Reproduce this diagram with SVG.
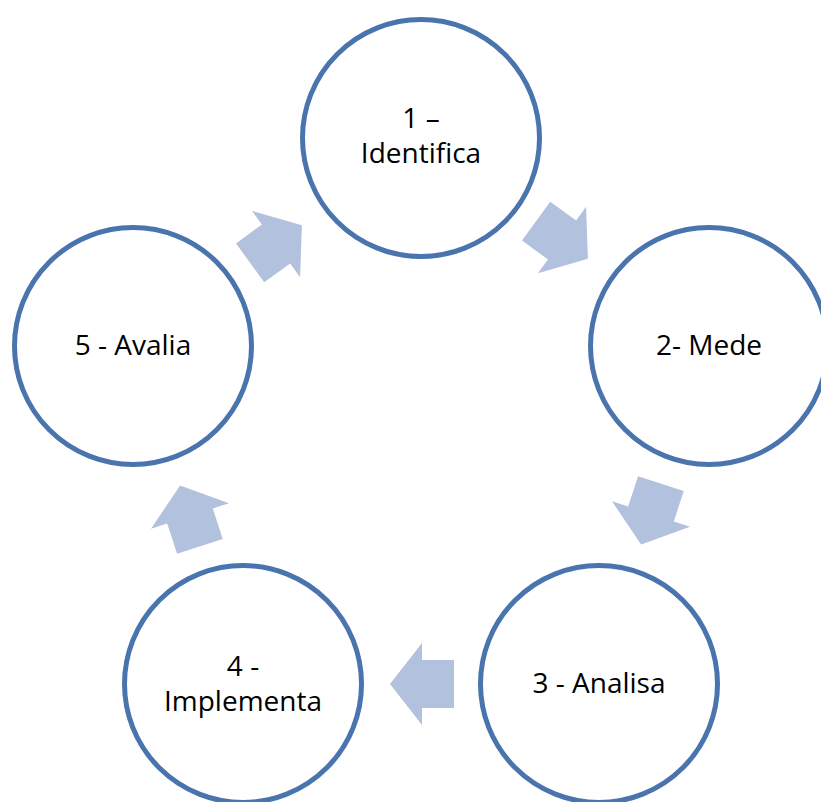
<svg xmlns="http://www.w3.org/2000/svg" width="821" height="802" viewBox="0 0 821 802">
  <style>
    .node circle { fill: #ffffff; stroke: #4a74ad; stroke-width: 5; }
    .node text { font-family: "Open Sans", "Noto Sans", sans-serif; font-size: 28px; fill: #000000; text-anchor: middle; }
    .arrow { fill: #b2c1dd; }
  </style>
  <defs>
    <!-- block arrow pointing along +x, centred on the origin -->
    <polygon id="cycle-arrow" points="-32,-24 0,-24 0,-41 32,0 0,41 0,24 -32,24"/>
  </defs>

  <g id="connectors">
    <use href="#cycle-arrow" class="arrow" transform="translate(562 240) rotate(36)"/>
    <use href="#cycle-arrow" class="arrow" transform="translate(651 514) rotate(108)"/>
    <use href="#cycle-arrow" class="arrow" transform="translate(422 684) rotate(180)"/>
    <use href="#cycle-arrow" class="arrow" transform="translate(190 516) rotate(252)"/>
    <use href="#cycle-arrow" class="arrow" transform="translate(276 244) rotate(324)"/>
  </g>

  <g id="node-1" class="node">
    <circle cx="421" cy="138" r="118.5"/>
    <text x="421" y="128">1 –</text>
    <text x="421" y="163">Identifica</text>
  </g>
  <g id="node-2" class="node">
    <circle cx="709" cy="346" r="118.5"/>
    <text x="709" y="355">2- Mede</text>
  </g>
  <g id="node-3" class="node">
    <circle cx="599" cy="684" r="118.5"/>
    <text x="599" y="693">3 - Analisa</text>
  </g>
  <g id="node-4" class="node">
    <circle cx="243" cy="684" r="118.5"/>
    <text x="243" y="676">4 -</text>
    <text x="243" y="711">Implementa</text>
  </g>
  <g id="node-5" class="node">
    <circle cx="133" cy="346" r="118.5"/>
    <text x="133" y="355">5 - Avalia</text>
  </g>
</svg>
